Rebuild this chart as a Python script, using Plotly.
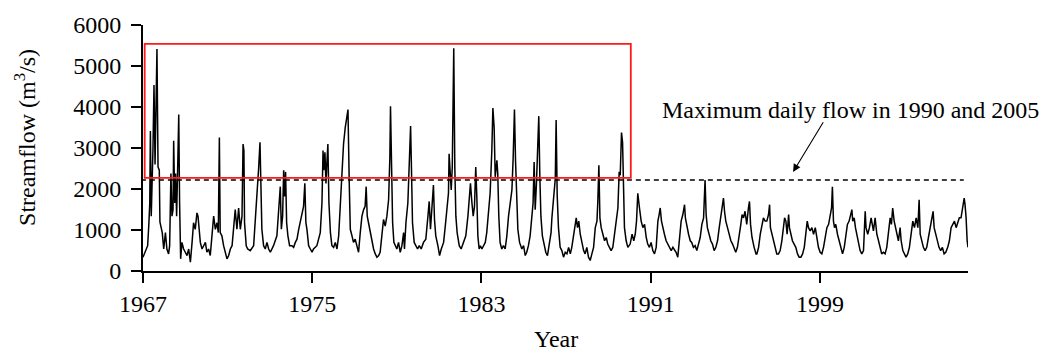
import plotly.graph_objects as go

# ---- data (decimal year, daily streamflow m3/s) ----
t_1967_1976 = [1967.00, 1967.11, 1967.22, 1967.28, 1967.32, 1967.35, 1967.39, 1967.47, 1967.52, 1967.57,
               1967.61, 1967.66, 1967.71, 1967.77, 1967.80, 1967.85, 1967.91, 1967.98, 1968.06, 1968.13,
               1968.21, 1968.26, 1968.32, 1968.37, 1968.42, 1968.45, 1968.50, 1968.54, 1968.59, 1968.65,
               1968.69, 1968.73, 1968.78, 1968.84, 1968.92, 1969.00, 1969.08, 1969.16, 1969.24, 1969.32,
               1969.39, 1969.47, 1969.55, 1969.60, 1969.65, 1969.71, 1969.79, 1969.87, 1969.95, 1970.02,
               1970.10, 1970.18, 1970.26, 1970.34, 1970.42, 1970.50, 1970.56, 1970.61, 1970.65, 1970.73,
               1970.81, 1970.89, 1970.97, 1971.05, 1971.13, 1971.21, 1971.28, 1971.36, 1971.44, 1971.52,
               1971.60, 1971.68, 1971.73, 1971.77, 1971.80, 1971.88, 1971.95, 1972.07, 1972.23, 1972.31,
               1972.39, 1972.47, 1972.53, 1972.58, 1972.62, 1972.70, 1972.78, 1972.86, 1972.94, 1973.02,
               1973.10, 1973.17, 1973.33, 1973.41, 1973.49, 1973.54, 1973.60, 1973.65, 1973.69, 1973.74,
               1973.79, 1973.85, 1973.93, 1974.04, 1974.12, 1974.20, 1974.28, 1974.36, 1974.43, 1974.51,
               1974.59, 1974.65, 1974.70, 1974.75, 1974.83, 1974.91, 1974.99, 1975.06, 1975.22, 1975.38,
               1975.46, 1975.51, 1975.55, 1975.60, 1975.65, 1975.69, 1975.74, 1975.79, 1975.86, 1975.93,
               1976.01, 1976.09, 1976.17, 1976.25, 1976.32, 1976.40, 1976.48, 1976.56]
q_1967_1976 = [337, 497, 617, 1177, 1657, 3417, 1337, 2937, 4537, 2600,
               3500, 5417, 2537, 2457, 1200, 1097, 937, 537, 937, 537,
               417, 617, 2377, 1337, 1497, 3177, 1657, 2377, 1337, 2777,
               3817, 1657, 297, 697, 537, 457, 377, 537, 217, 697,
               1177, 1017, 1417, 1337, 937, 697, 537, 617, 697, 457,
               537, 377, 857, 1337, 1017, 1177, 937, 3257, 937, 857,
               617, 457, 297, 377, 537, 617, 1017, 1497, 1017, 1537,
               1017, 1337, 3097, 2937, 1177, 617, 537, 497, 617, 1177,
               1897, 2537, 3137, 1737, 1017, 617, 537, 697, 537, 457,
               537, 617, 857, 1417, 2057, 1017, 1337, 2457, 1817, 2417,
               1177, 857, 617, 617, 577, 697, 777, 1017, 1177, 1337,
               1577, 2137, 1177, 1017, 617, 537, 457, 537, 617, 937,
               1657, 2937, 2457, 2897, 2137, 2617, 3097, 1657, 937, 617,
               577, 697, 537, 857, 1657, 2297, 3097, 3497]

t_1976_1986 = [1976.69, 1976.75, 1976.80, 1976.88, 1976.95, 1977.03, 1977.11, 1977.19, 1977.27, 1977.35,
               1977.43, 1977.50, 1977.55, 1977.60, 1977.66, 1977.74, 1977.82, 1977.90, 1977.98, 1978.06,
               1978.14, 1978.21, 1978.29, 1978.37, 1978.45, 1978.53, 1978.61, 1978.67, 1978.70, 1978.75,
               1978.80, 1978.86, 1978.92, 1979.00, 1979.08, 1979.16, 1979.24, 1979.32, 1979.36, 1979.43,
               1979.52, 1979.60, 1979.65, 1979.69, 1979.74, 1979.82, 1979.90, 1979.98, 1980.06, 1980.15,
               1980.26, 1980.37, 1980.47, 1980.53, 1980.59, 1980.66, 1980.73, 1980.78, 1980.84, 1980.94,
               1981.02, 1981.10, 1981.21, 1981.29, 1981.36, 1981.44, 1981.47, 1981.52, 1981.57, 1981.62,
               1981.66, 1981.69, 1981.74, 1981.79, 1981.85, 1981.95, 1982.04, 1982.15, 1982.26, 1982.36,
               1982.42, 1982.48, 1982.55, 1982.61, 1982.67, 1982.73, 1982.78, 1982.83, 1982.89, 1982.95,
               1983.02, 1983.10, 1983.18, 1983.25, 1983.33, 1983.41, 1983.49, 1983.54, 1983.60, 1983.65,
               1983.73, 1983.77, 1983.82, 1983.88, 1983.96, 1984.04, 1984.12, 1984.20, 1984.28, 1984.36,
               1984.44, 1984.50, 1984.56, 1984.61, 1984.66, 1984.72, 1984.80, 1984.91, 1984.99, 1985.07,
               1985.14, 1985.22, 1985.30, 1985.38, 1985.44, 1985.49, 1985.54, 1985.60, 1985.66, 1985.71,
               1985.76, 1985.81, 1985.88, 1985.96, 1986.04, 1986.12, 1986.20, 1986.29]
q_1976_1986 = [3937, 2137, 1017, 857, 697, 777, 577, 457, 937, 1337,
               1497, 1577, 2057, 1337, 1177, 937, 697, 537, 417, 337,
               377, 457, 857, 1257, 1097, 1337, 1737, 2777, 4017, 2137,
               1177, 697, 617, 537, 697, 457, 617, 937, 537, 1177,
               1657, 2777, 3537, 2537, 1177, 697, 617, 537, 617, 537,
               697, 777, 1337, 1697, 1017, 1497, 2097, 1257, 857, 617,
               377, 537, 697, 1097, 1497, 1897, 2857, 2377, 1977, 2537,
               3737, 5433, 2537, 1337, 937, 617, 537, 697, 857, 1337,
               1737, 2137, 1657, 1337, 1577, 2537, 1817, 857, 537, 617,
               537, 617, 697, 937, 1337, 1897, 2937, 3977, 3497, 2297,
               2697, 2377, 1337, 697, 537, 617, 537, 857, 1337, 1657,
               1977, 2777, 3937, 2697, 1657, 1017, 697, 537, 617, 377,
               457, 617, 857, 1337, 1657, 2657, 1497, 2137, 3097, 3777,
               2297, 1337, 857, 617, 457, 377, 617, 937]

t_1986_1995 = [1986.33, 1986.41, 1986.49, 1986.53, 1986.58, 1986.64, 1986.72, 1986.80, 1986.88, 1986.96,
               1987.04, 1987.12, 1987.20, 1987.27, 1987.35, 1987.43, 1987.48, 1987.54, 1987.60, 1987.67,
               1987.75, 1987.83, 1987.90, 1987.98, 1988.06, 1988.14, 1988.22, 1988.30, 1988.38, 1988.46,
               1988.50, 1988.55, 1988.60, 1988.66, 1988.74, 1988.82, 1988.90, 1988.97, 1989.05, 1989.13,
               1989.21, 1989.29, 1989.37, 1989.45, 1989.51, 1989.56, 1989.62, 1989.67, 1989.72, 1989.76,
               1989.84, 1989.92, 1990.03, 1990.12, 1990.20, 1990.27, 1990.33, 1990.39, 1990.47, 1990.55,
               1990.63, 1990.71, 1990.79, 1990.86, 1990.94, 1991.02, 1991.10, 1991.18, 1991.26, 1991.34,
               1991.40, 1991.45, 1991.51, 1991.57, 1991.65, 1991.73, 1991.81, 1991.89, 1991.97, 1992.05,
               1992.13, 1992.20, 1992.28, 1992.36, 1992.44, 1992.52, 1992.60, 1992.64, 1992.71, 1992.79,
               1992.87, 1992.94, 1993.02, 1993.10, 1993.18, 1993.26, 1993.34, 1993.42, 1993.50, 1993.57,
               1993.62, 1993.68, 1993.76, 1993.84, 1993.92, 1994.00, 1994.08, 1994.16, 1994.24, 1994.31,
               1994.39, 1994.44, 1994.49, 1994.55, 1994.63, 1994.71, 1994.79, 1994.87, 1994.94, 1995.02,
               1995.10, 1995.18, 1995.26, 1995.32, 1995.39, 1995.46, 1995.54, 1995.62, 1995.67, 1995.72,
               1995.79, 1995.89, 1995.98]
q_1986_1995 = [1297, 1697, 2257, 3680, 1857, 1057, 577, 497, 337, 457,
               417, 577, 417, 577, 897, 1137, 1297, 1057, 1217, 897,
               657, 497, 417, 577, 337, 257, 417, 577, 1057, 1217,
               1697, 2577, 1297, 1057, 897, 737, 817, 657, 577, 497,
               577, 977, 1217, 1537, 2417, 2337, 3377, 3137, 2017, 1057,
               737, 577, 657, 897, 737, 897, 1217, 1897, 1537, 1217,
               1057, 1137, 817, 657, 577, 697, 497, 417, 577, 1217,
               1377, 1537, 1217, 1057, 897, 737, 657, 577, 497, 577,
               497, 457, 337, 897, 1217, 1377, 1617, 1297, 1057, 897,
               737, 697, 577, 617, 497, 657, 817, 1137, 1297, 2217,
               1377, 1057, 897, 737, 657, 497, 577, 737, 1057, 1297,
               1537, 1777, 1457, 1217, 1057, 897, 737, 657, 577, 457,
               577, 817, 1137, 1377, 1297, 1457, 1137, 1537, 1697, 1137,
               817, 577, 417]

t_1996_2005 = [1996.02, 1996.10, 1996.18, 1996.26, 1996.33, 1996.41, 1996.49, 1996.57, 1996.62, 1996.66,
               1996.73, 1996.81, 1996.89, 1996.96, 1997.04, 1997.12, 1997.20, 1997.28, 1997.33, 1997.39,
               1997.45, 1997.52, 1997.56, 1997.63, 1997.70, 1997.78, 1997.86, 1997.94, 1998.02, 1998.10,
               1998.18, 1998.26, 1998.33, 1998.40, 1998.46, 1998.54, 1998.62, 1998.70, 1998.78, 1998.85,
               1998.93, 1999.01, 1999.09, 1999.17, 1999.25, 1999.33, 1999.41, 1999.48, 1999.55, 1999.59,
               1999.64, 1999.69, 1999.75, 1999.83, 1999.91, 1999.99, 2000.07, 2000.15, 2000.22, 2000.30,
               2000.38, 2000.46, 2000.51, 2000.55, 2000.62, 2000.68, 2000.74, 2000.82, 2000.90, 2000.98,
               2001.06, 2001.14, 2001.18, 2001.26, 2001.34, 2001.42, 2001.47, 2001.53, 2001.61, 2001.69,
               2001.77, 2001.85, 2001.92, 2002.00, 2002.08, 2002.16, 2002.24, 2002.32, 2002.38, 2002.44,
               2002.51, 2002.57, 2002.63, 2002.71, 2002.79, 2002.84, 2002.92, 2003.00, 2003.07, 2003.15,
               2003.23, 2003.31, 2003.39, 2003.47, 2003.55, 2003.63, 2003.69, 2003.74, 2003.82, 2003.89,
               2003.97, 2004.05, 2004.13, 2004.21, 2004.29, 2004.35, 2004.40, 2004.48, 2004.56, 2004.63,
               2004.71, 2004.79, 2004.87, 2004.95, 2005.04, 2005.12, 2005.20, 2005.28, 2005.36, 2005.44,
               2005.52, 2005.59, 2005.67, 2005.75, 2005.82, 2005.86, 2005.91, 2005.96, 2006.00]
q_1996_2005 = [417, 577, 897, 1137, 1297, 1217, 1217, 1377, 1617, 1057,
               897, 737, 577, 417, 417, 497, 737, 1057, 1297, 1217,
               897, 1377, 1057, 897, 737, 657, 577, 417, 337, 337,
               417, 577, 977, 1217, 1057, 977, 1057, 897, 1057, 817,
               577, 457, 417, 577, 817, 1057, 1137, 1297, 1537, 2057,
               1217, 1057, 1137, 897, 737, 577, 417, 577, 897, 1137,
               1217, 1377, 1497, 1217, 1297, 1057, 897, 737, 497, 417,
               497, 1457, 1057, 897, 1057, 1297, 1137, 977, 1297, 897,
               737, 577, 417, 457, 417, 577, 897, 1297, 1137, 1537,
               1217, 1057, 897, 737, 1057, 737, 497, 417, 337, 417,
               577, 897, 1217, 1057, 1297, 1057, 1737, 897, 737, 577,
               497, 577, 817, 1057, 1217, 1457, 1057, 897, 737, 577,
               497, 577, 417, 457, 577, 737, 1057, 1137, 1217, 1057,
               1217, 1297, 1297, 1537, 1777, 1617, 1297, 737, 577]

x_ticks = [1967, 1975, 1983, 1991, 1999]
y_ticks = [0, 1000, 2000, 3000, 4000, 5000, 6000]

box_x = [1967.08, 1990.06]          # red box (years)
box_y = [2270, 5540]                # red box (flow)
max_flow_1990_2005 = 2220           # dashed reference level
dash_x = [1966.9, 2005.8]
note_text = "Maximum daily flow in 1990 and 2005"

years = t_1967_1976 + t_1976_1986 + t_1986_1995 + t_1996_2005
flow = q_1967_1976 + q_1976_1986 + q_1986_1995 + q_1996_2005

FONT = "Liberation Serif, Times New Roman, serif"

fig = go.Figure()
fig.add_trace(go.Scatter(x=years, y=flow, mode="lines",
                         line=dict(color="black", width=1.5), showlegend=False,
                         hoverinfo="skip"))

fig.add_shape(type="rect", xref="x", yref="y", x0=box_x[0], x1=box_x[1],
              y0=box_y[0], y1=box_y[1], line=dict(color="#ff1a1a", width=1.8))
fig.add_shape(type="line", xref="x", yref="y", x0=dash_x[0], x1=dash_x[1],
              y0=max_flow_1990_2005, y1=max_flow_1990_2005,
              line=dict(color="black", width=1.5, dash="5px,4px"))

fig.add_annotation(xref="x", yref="y", x=2000.43, y=3929, text=note_text,
                   showarrow=False, xanchor="center", yanchor="middle",
                   font=dict(family=FONT, size=24, color="black"))
fig.add_annotation(xref="x", yref="y", x=1997.73, y=2417, axref="x", ayref="y",
                   ax=1999.20, ay=3665, text="", showarrow=True, arrowhead=2,
                   arrowsize=1.4, arrowwidth=1.1, arrowcolor="black", standoff=0)

fig.add_annotation(xref="paper", yref="paper", x=-0.143, y=0.541,
                   text="Streamflow (m<sup>3</sup>/s)", textangle=-90, showarrow=False,
                   xanchor="center", yanchor="middle",
                   font=dict(family=FONT, size=24, color="black"))
fig.add_annotation(xref="paper", yref="paper", x=0.5, y=-0.277, text="Year",
                   showarrow=False, xanchor="center", yanchor="middle",
                   font=dict(family=FONT, size=24, color="black"))

axis_common = dict(showline=True, linecolor="black", linewidth=2, ticks="outside",
                   ticklen=10, tickwidth=2, tickcolor="black", showgrid=False,
                   zeroline=False, tickfont=dict(family=FONT, size=24, color="black"))

fig.update_xaxes(range=[1967, 2006], tickvals=x_ticks, ticktext=[str(v) for v in x_ticks],
                 **axis_common)
fig.update_yaxes(range=[0, 6000], tickvals=y_ticks, ticktext=[str(v) for v in y_ticks],
                 ticklabelstandoff=5, **axis_common)

fig.update_layout(width=1046, height=360, autosize=False,
                  margin=dict(l=143, r=78, t=21, b=89, pad=0),
                  plot_bgcolor="white", paper_bgcolor="white",
                  font=dict(family=FONT, size=24, color="black"))

fig.write_html("out.html")
